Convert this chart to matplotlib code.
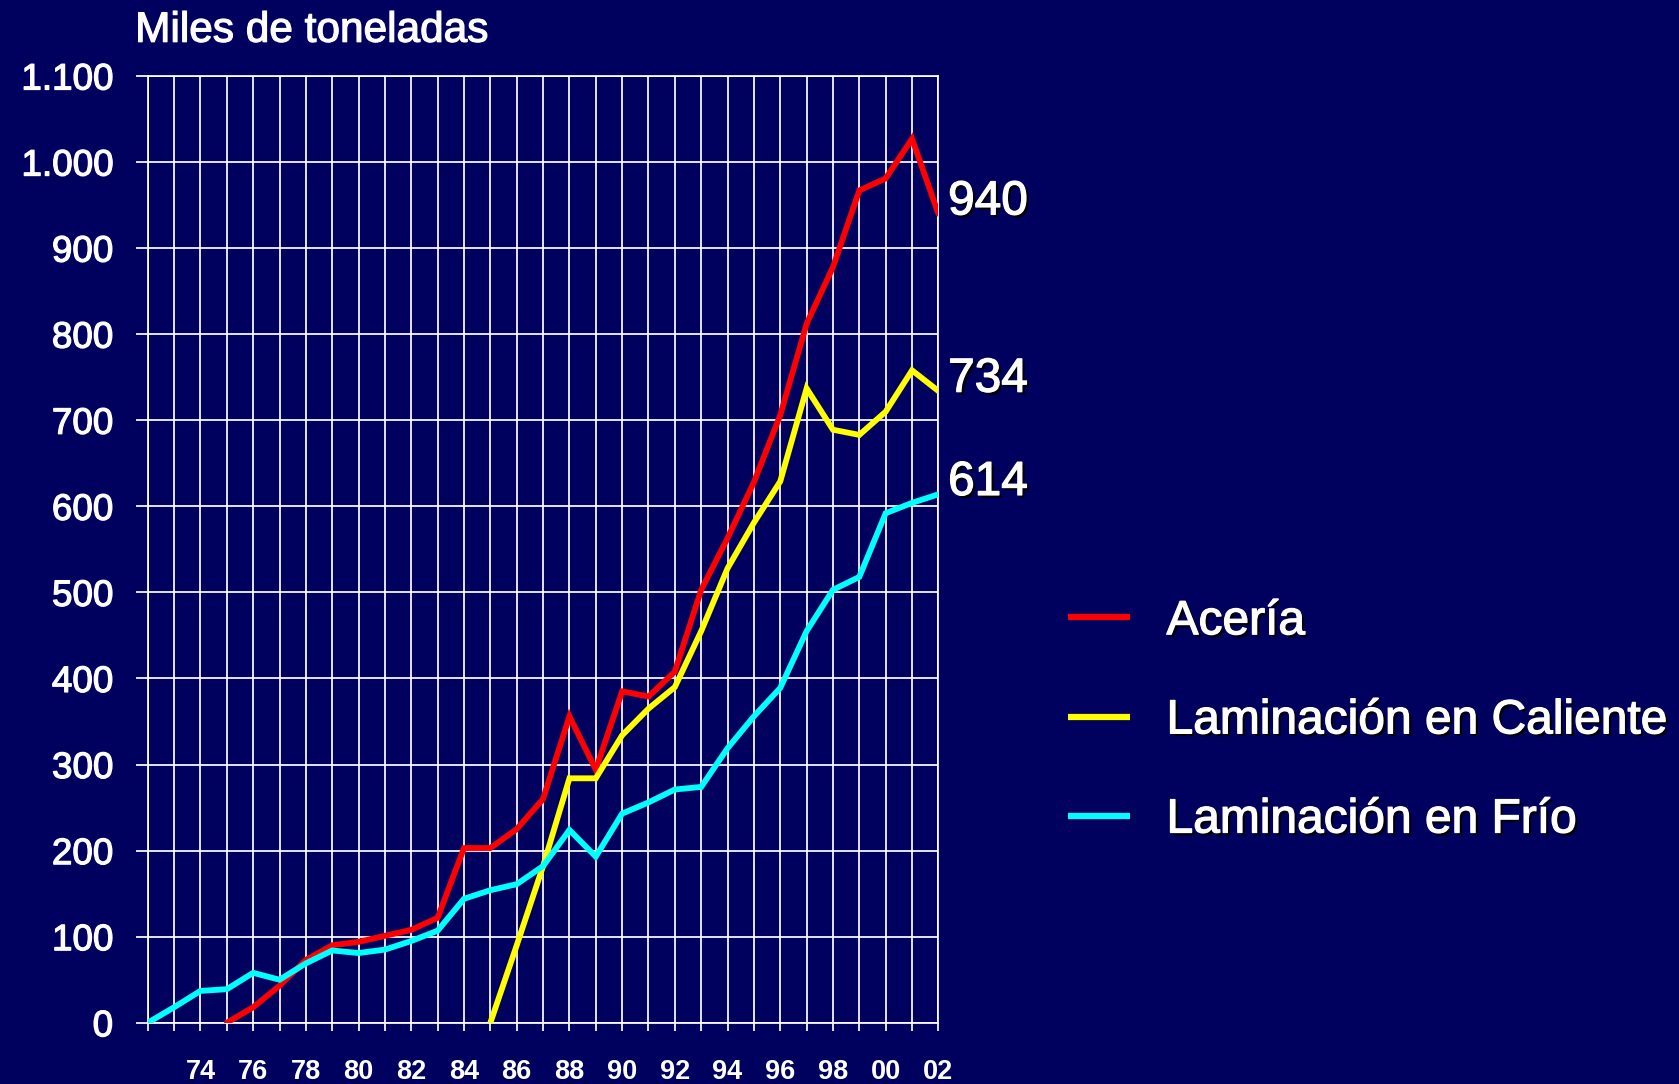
import numpy as np
import matplotlib
matplotlib.use("Agg")
from matplotlib import pyplot as plt
import matplotlib.patheffects as pe

plt.rcParams['font.family'] = ['Liberation Sans', 'DejaVu Sans']

# series data, miles de toneladas
years_aceria = np.arange(1975, 2003)
aceria = [0, 18, 43, 73, 90, 94, 101, 108, 122, 203, 203, 225, 260, 356,
          294, 385, 379, 408, 503, 563, 628, 706, 812, 878, 967, 981, 1027, 940]

years_caliente = np.arange(1985, 2003)
caliente = [0, 90, 182, 284, 284, 334, 365, 390, 455, 528, 581, 629, 737,
            689, 683, 710, 758, 734]

years_frio = np.arange(1972, 2003)
frio = [0, 18, 37, 39, 58, 50, 69, 84, 81, 85, 95, 107, 144, 154, 161, 182,
        224, 193, 243, 256, 271, 274, 319, 356, 389, 455, 503, 518, 592, 604, 614]

series_names = ["Acería", "Laminación en Caliente", "Laminación en Frío"]
series_colors = ["#ff0000", "#ffff00", "#00ffff"]

x_ticks = np.arange(1972, 2003)
x_labels = ["" if (y % 2 == 1 or y == 1972) else "%02d" % (y % 100) for y in x_ticks]
y_ticks = np.arange(0, 1101, 100)
y_labels = ["0", "100", "200", "300", "400", "500", "600", "700", "800", "900",
            "1.000", "1.100"]

bg = "#00005f"
# slightly heavier strokes + drop shadow, like the slide text
heavy = [pe.withStroke(linewidth=0.9, foreground="white")]
shadow = [pe.SimplePatchShadow(offset=(2, -2), shadow_rgbFace="black", alpha=0.9),
          pe.withStroke(linewidth=0.9, foreground="white")]

fig = plt.figure(figsize=(16.79, 10.84), dpi=100, facecolor=bg)
ax = fig.add_axes([0.088, 0.0565, 0.4709, 0.8734], facecolor=bg)

lines = []
for xs, ys, col, name in zip([years_aceria, years_caliente, years_frio],
                             [aceria, caliente, frio], series_colors, series_names):
    ln, = ax.plot(xs, ys, color=col, lw=4.2, label=name, solid_joinstyle="miter",
                  solid_capstyle="round", zorder=3)
    lines.append(ln)
    ax.annotate(str(ys[-1]), xy=(xs[-1], ys[-1]), xytext=(7, 8.5), textcoords="offset points",
                color="white", fontsize=34.4, ha="left", va="center",
                path_effects=shadow, annotation_clip=False)

ax.set_xlim(1972, 2002)
ax.set_ylim(0, 1100)
ax.set_xticks(x_ticks)
ax.set_xticklabels(x_labels)
ax.set_yticks(y_ticks)
ax.set_yticklabels(y_labels)
ax.grid(True, color="white", lw=1.25, zorder=1)
ax.set_axisbelow(True)
for s in ax.spines.values():
    s.set_color("white")
    s.set_linewidth(1.25)
ax.tick_params(axis="y", colors="white", length=8.6, width=1.25, pad=16.5,
               labelsize=26.5, labelcolor="white")
ax.tick_params(axis="x", colors="white", length=6, width=1.25, pad=20,
               labelsize=19.5, labelcolor="white")
for t in ax.get_xticklabels():
    t.set_fontweight("bold")
for t in ax.get_yticklabels():
    t.set_path_effects(heavy)

fig.text(0.0805, 0.9615, "Miles de toneladas", color="white", fontsize=30.5,
         ha="left", va="baseline", path_effects=heavy)

leg = fig.legend(handles=lines, loc="center left", bbox_to_anchor=(0.636, 0.335),
                 frameon=False, fontsize=34.5, handlelength=1.29, handletextpad=0.77,
                 labelspacing=1.13, borderpad=0, borderaxespad=0)
for t in leg.get_texts():
    t.set_color("white")
    t.set_path_effects(shadow)
for h in leg.legend_handles:
    h.set_linewidth(4.5)
    h.set_solid_capstyle("butt")

fig.savefig("out.png", dpi=100, facecolor=bg)
